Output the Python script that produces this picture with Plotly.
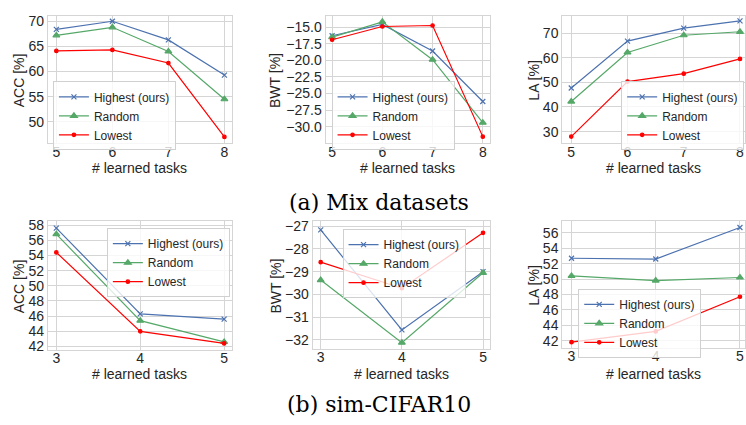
import plotly.graph_objects as go

W, H = 746, 425

# ---------------- data ----------------
series_names = ["Highest (ours)", "Random", "Lowest"]

mix_tasks = [5, 6, 7, 8]
mix_acc_highest = [68.4, 70.0, 66.3, 59.3]
mix_acc_random = [67.2, 68.8, 64.0, 54.5]
mix_acc_lowest = [64.1, 64.3, 61.7, 47.0]

mix_bwt_highest = [-16.3, -14.6, -18.6, -26.2]
mix_bwt_random = [-16.5, -14.2, -19.9, -29.4]
mix_bwt_lowest = [-16.9, -14.9, -14.75, -31.5]

mix_la_highest = [47.7, 66.7, 72.0, 74.9]
mix_la_random = [42.2, 62.1, 69.1, 70.5]
mix_la_lowest = [28.0, 50.3, 53.5, 59.5]

cifar_tasks = [3, 4, 5]
cifar_acc_highest = [57.6, 46.3, 45.6]
cifar_acc_random = [56.8, 45.4, 42.6]
cifar_acc_lowest = [54.4, 44.0, 42.4]

cifar_bwt_highest = [-27.16, -31.57, -29.0]
cifar_bwt_random = [-29.37, -32.13, -29.05]
cifar_bwt_lowest = [-28.58, -29.73, -27.29]

cifar_la_highest = [52.7, 52.6, 56.7]
cifar_la_random = [50.4, 49.8, 50.2]
cifar_la_lowest = [41.8, 43.2, 47.7]

mix_acc_ticks = [50, 55, 60, 65, 70]
mix_bwt_ticks = [-30.0, -27.5, -25.0, -22.5, -20.0, -17.5, -15.0]
mix_la_ticks = [30, 40, 50, 60, 70]
cifar_acc_ticks = [42, 44, 46, 48, 50, 52, 54, 56, 58]
cifar_bwt_ticks = [-32, -31, -30, -29, -28, -27]
cifar_la_ticks = [42, 44, 46, 48, 50, 52, 54, 56]

x_title = "# learned tasks"
captions = ["(a) Mix datasets", "(b) sim-CIFAR10"]

# ---------------- style ----------------
colors = ["#4c72b0", "#55a868", "#ff0000"]
symbols = ["x-thin-open", "triangle-up", "circle"]
msizes = [5, 6, 3.5]
FONT = "Liberation Sans, Arial, sans-serif"
GRID = "#d5d5d5"
TXT = "#262626"

def px_x(p):
    return p / W

def px_y(p):
    return 1 - p / H

panels = [
    dict(xd=(48, 232), yd=(12, 142), x=mix_tasks,
         ys=[mix_acc_highest, mix_acc_random, mix_acc_lowest],
         yt=mix_acc_ticks, yr=[45.8, 71.1], xr=[4.85, 8.13], title="ACC [%]",
         leg=(53, 79), fmt=None, xt_y=168, yt_x=19),
    dict(xd=(326, 491), yd=(12, 142), x=mix_tasks,
         ys=[mix_bwt_highest, mix_bwt_random, mix_bwt_lowest],
         yt=mix_bwt_ticks, yr=[-32.46, -13.28], xr=[4.87, 8.15], title="BWT [%]",
         leg=(332, 79), fmt=".1f", xt_y=168, yt_x=276),
    dict(xd=(563, 746), yd=(12, 142), x=mix_tasks,
         ys=[mix_la_highest, mix_la_random, mix_la_lowest],
         yt=mix_la_ticks, yr=[25.4, 77.0], xr=[4.84, 8.089], title="LA [%]",
         leg=(622, 79), fmt=None, xt_y=168, yt_x=535),
    dict(xd=(48, 232), yd=(222, 353), x=cifar_tasks,
         ys=[cifar_acc_highest, cifar_acc_random, cifar_acc_lowest],
         yt=cifar_acc_ticks, yr=[41.6, 58.5], xr=[2.9, 5.09], title="ACC [%]",
         leg=(107, 229), fmt=None, xt_y=378, yt_x=19),
    dict(xd=(313, 491), yd=(222, 352), x=cifar_tasks,
         ys=[cifar_bwt_highest, cifar_bwt_random, cifar_bwt_lowest],
         yt=cifar_bwt_ticks, yr=[-32.39, -26.78], xr=[2.9, 5.09], title="BWT [%]",
         leg=(343, 230), fmt=None, xt_y=378, yt_x=276),
    dict(xd=(563, 746), yd=(222, 351), x=cifar_tasks,
         ys=[cifar_la_highest, cifar_la_random, cifar_la_lowest],
         yt=cifar_la_ticks, yr=[41.1, 57.5], xr=[2.89, 5.06], title="LA [%]",
         leg=(579, 291), fmt=None, xt_y=378, yt_x=535),
]

fig = go.Figure()
layout = dict(
    width=W, height=H, margin=dict(l=0, r=0, t=0, b=0),
    paper_bgcolor="white", plot_bgcolor="white",
    font=dict(family=FONT, color=TXT, size=13),
    showlegend=True,
)
annotations = []

for i, p in enumerate(panels):
    n = i + 1
    xa = "xaxis" if n == 1 else f"xaxis{n}"
    ya = "yaxis" if n == 1 else f"yaxis{n}"
    xref = "x" if n == 1 else f"x{n}"
    yref = "y" if n == 1 else f"y{n}"
    legname = "legend" if n == 1 else f"legend{n}"
    for s in range(3):
        fig.add_trace(go.Scatter(
            x=p["x"], y=p["ys"][s], name=series_names[s], mode="lines+markers",
            line=dict(color=colors[s], width=1.2),
            marker=dict(symbol=symbols[s], size=msizes[s], color=colors[s],
                        line=dict(color=colors[s], width=1.2)),
            xaxis=xref, yaxis=yref, legend=legname,
        ))
    layout[xa] = dict(
        domain=[px_x(p["xd"][0]), px_x(p["xd"][1])], anchor=yref,
        range=p["xr"], tickvals=p["x"], showgrid=True, gridcolor=GRID, gridwidth=1,
        zeroline=False, showline=True, linecolor=GRID, mirror=True, ticks="",
        tickfont=dict(size=14, family=FONT, color=TXT), ticklabelstandoff=-4,
    )
    annotations.append(dict(
        text=x_title, x=(p["xd"][0] + p["xd"][1]) / 2 / W, y=px_y(p["xt_y"]),
        xref="paper", yref="paper", showarrow=False,
        xanchor="center", yanchor="middle",
        font=dict(size=14, family=FONT, color=TXT),
    ))
    annotations.append(dict(
        text=p["title"], x=p["yt_x"] / W, y=px_y((p["yd"][0] + p["yd"][1]) / 2 + 1),
        xref="paper", yref="paper", showarrow=False, textangle=-90,
        xanchor="center", yanchor="middle",
        font=dict(size=14, family=FONT, color=TXT),
    ))
    ydict = dict(
        domain=[px_y(p["yd"][1]), px_y(p["yd"][0])], anchor=xref,
        range=p["yr"], tickvals=p["yt"], showgrid=True, gridcolor=GRID, gridwidth=1,
        zeroline=False, showline=True, linecolor=GRID, mirror=True, ticks="",
        tickfont=dict(size=14, family=FONT, color=TXT),
    )
    if p["fmt"]:
        ydict["tickformat"] = p["fmt"]
    layout[ya] = ydict
    layout[legname] = dict(
        x=px_x(p["leg"][0]), y=px_y(p["leg"][1]), xanchor="left", yanchor="top",
        xref="paper", yref="paper",
        bgcolor="rgba(255,255,255,0.8)", bordercolor="#d0d0d0", borderwidth=1,
        font=dict(size=12, family=FONT, color=TXT),
        tracegroupgap=0, itemwidth=30,
    )

for cap, cy in zip(captions, [203, 409]):
    annotations.append(dict(
        text=cap, x=380 / W, y=px_y(cy), xref="paper", yref="paper",
        showarrow=False, xanchor="center", yanchor="middle",
        font=dict(size=22, family="DejaVu Serif, serif", color="black"),
    ))

layout["annotations"] = annotations
fig.update_layout(**layout)
fig.write_html("out.html")
